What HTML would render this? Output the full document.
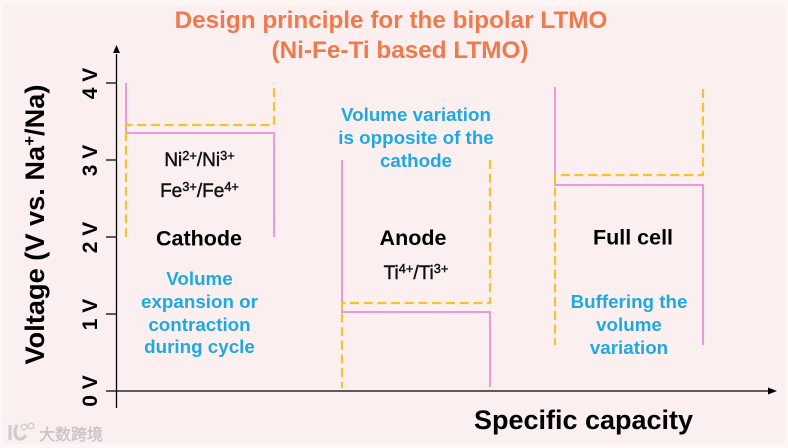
<!DOCTYPE html>
<html><head><meta charset="utf-8"><style>
html,body{margin:0;padding:0;background:#fbf1f0}
svg{display:block}
text{font-family:"Liberation Sans","Noto Sans CJK SC",sans-serif;font-weight:bold;text-anchor:middle}
.b{fill:#1fa9e0;font-size:18.8px}
.k{fill:#000;font-size:21.5px}
.i{fill:#111;font-size:19px;font-weight:normal;stroke:#111;stroke-width:.45}
.s{font-size:12.8px}
.t{fill:#ee7a4e;font-size:24.3px}
.v{fill:#000;font-size:21px}
</style></head><body>
<svg width="788" height="448" viewBox="0 0 788 448" xmlns="http://www.w3.org/2000/svg">
<rect width="788" height="448" fill="#fdf6f5"/>
<rect x="3" y="5" width="782" height="439" fill="#fbf0ef"/>
<text class="t" x="391" y="28">Design principle for the bipolar LTMO</text>
<text class="t" x="400" y="58">(Ni-Fe-Ti based LTMO)</text>

<g stroke="#000" stroke-width="1.3" fill="none">
<path d="M116.5 54V408M106 391H768M106 83H116.5M106 160H116.5M106 237H116.5M106 314H116.5"/>
</g>
<path d="M116.5 45L113 53H120Z" fill="#000"/>
<path d="M777 391L768 387.5V394.5Z" fill="#000"/>

<g fill="none" stroke="#eb98dc" stroke-width="2">
<path d="M126 83V133H274V237"/>
<path d="M342 160V312H490V387"/>
<path d="M555 87V185H703V345"/>
</g>
<g fill="none" stroke="#f8c12e" stroke-width="2.2" stroke-dasharray="9 4.7">
<path d="M126 237V125H274V83"/>
<path d="M490 160V303H342V388"/>
<path d="M703 89V175H555V345"/>
</g>

<text class="v" transform="translate(97 83.5) rotate(-90)">4 V</text>
<text class="v" transform="translate(97 160.5) rotate(-90)">3 V</text>
<text class="v" transform="translate(97 237.5) rotate(-90)">2 V</text>
<text class="v" transform="translate(97 314.5) rotate(-90)">1 V</text>
<text class="v" transform="translate(97 391) rotate(-90)">0 V</text>
<text transform="translate(44 224.5) rotate(-90)" style="font-size:27.2px" fill="#000">Voltage (V vs. Na<tspan dy="-9" font-size="17">+</tspan><tspan dy="9">/Na)</tspan></text>
<text x="583.5" y="429" fill="#000" style="font-size:27px">Specific capacity</text>

<text class="i" x="199.5" y="166">Ni<tspan class="s" dy="-6">2+</tspan><tspan dy="6">/Ni</tspan><tspan class="s" dy="-6">3+</tspan></text>
<text class="i" x="199.5" y="197">Fe<tspan class="s" dy="-6">3+</tspan><tspan dy="6">/Fe</tspan><tspan class="s" dy="-6">4+</tspan></text>
<text class="k" x="199" y="245.5">Cathode</text>
<text class="b" x="199.5" y="285">Volume</text>
<text class="b" x="199.5" y="308">expansion or</text>
<text class="b" x="199.5" y="331">contraction</text>
<text class="b" x="199.5" y="353">during cycle</text>

<text class="b" x="416" y="121">Volume variation</text>
<text class="b" x="416" y="144">is opposite of the</text>
<text class="b" x="416" y="167">cathode</text>
<text class="k" x="413" y="245">Anode</text>
<text class="i" x="416" y="279">Ti<tspan class="s" dy="-6">4+</tspan><tspan dy="6">/Ti</tspan><tspan class="s" dy="-6">3+</tspan></text>

<text class="k" x="633" y="244.5">Full cell</text>
<text class="b" x="629" y="308">Buffering the</text>
<text class="b" x="629" y="331">volume</text>
<text class="b" x="629" y="354">variation</text>

<g>
<path d="M10 425V440M17 425Q13 433 17 438Q22 441 26 435" fill="none" stroke="#d0cccb" stroke-width="3.2"/>
<circle cx="24" cy="427" r="2.8" fill="none" stroke="#d0cccb" stroke-width="1.3"/>
<circle cx="31" cy="426" r="2.8" fill="none" stroke="#d0cccb" stroke-width="1.3"/>
<text x="71" y="440" style="font-size:16px;font-weight:normal" fill="#c9c5c4" stroke="#c9c5c4" stroke-width=".4">大数跨境</text>
</g>
</svg>
</body></html>
